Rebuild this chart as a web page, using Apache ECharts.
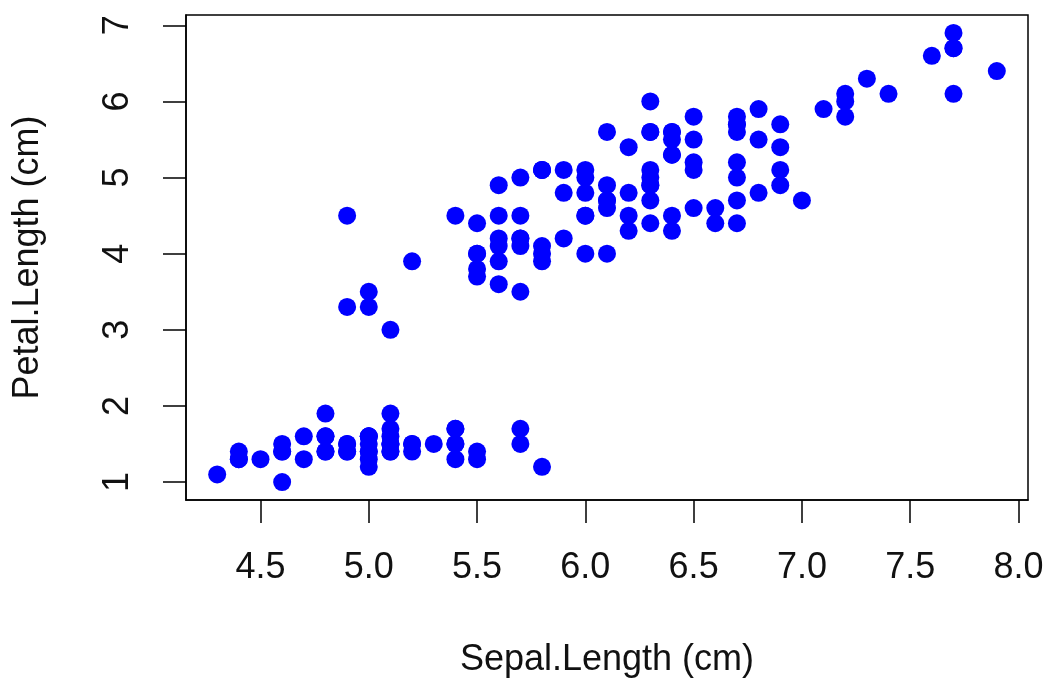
<!DOCTYPE html>
<html>
<head>
<meta charset="utf-8">
<script src="https://cdn.jsdelivr.net/npm/echarts@6/dist/echarts.min.js"></script>
<style>
  html, body { margin: 0; padding: 0; background: #fff; }
  #main { width: 1048px; height: 680px; }
</style>
</head>
<body>
<div id="main"></div>
<script>
// iris: Sepal.Length vs Petal.Length
const sepalLength = [
  5.1, 4.9, 4.7, 4.6, 5.0, 5.4, 4.6, 5.0, 4.4, 4.9, 5.4, 4.8, 4.8, 4.3, 5.8, 5.7, 5.4, 5.1, 5.7, 5.1,
  5.4, 5.1, 4.6, 5.1, 4.8, 5.0, 5.0, 5.2, 5.2, 4.7, 4.8, 5.4, 5.2, 5.5, 4.9, 5.0, 5.5, 4.9, 4.4, 5.1,
  5.0, 4.5, 4.4, 5.0, 5.1, 4.8, 5.1, 4.6, 5.3, 5.0,
  7.0, 6.4, 6.9, 5.5, 6.5, 5.7, 6.3, 4.9, 6.6, 5.2, 5.0, 5.9, 6.0, 6.1, 5.6, 6.7, 5.6, 5.8, 6.2, 5.6,
  5.9, 6.1, 6.3, 6.1, 6.4, 6.6, 6.8, 6.7, 6.0, 5.7, 5.5, 5.5, 5.8, 6.0, 5.4, 6.0, 6.7, 6.3, 5.6, 5.5,
  5.5, 6.1, 5.8, 5.0, 5.6, 5.7, 5.7, 6.2, 5.1, 5.7,
  6.3, 5.8, 7.1, 6.3, 6.5, 7.6, 4.9, 7.3, 6.7, 7.2, 6.5, 6.4, 6.8, 5.7, 5.8, 6.4, 6.5, 7.7, 7.7, 6.0,
  6.9, 5.6, 7.7, 6.3, 6.7, 7.2, 6.2, 6.1, 6.4, 7.2, 7.4, 7.9, 6.4, 6.3, 6.1, 7.7, 6.3, 6.4, 6.0, 6.9,
  6.7, 6.9, 5.8, 6.8, 6.7, 6.7, 6.3, 6.5, 6.2, 5.9
]
const petalLength = [
  1.4, 1.4, 1.3, 1.5, 1.4, 1.7, 1.4, 1.5, 1.4, 1.5, 1.5, 1.6, 1.4, 1.1, 1.2, 1.5, 1.3, 1.4, 1.7, 1.5,
  1.7, 1.5, 1.0, 1.7, 1.9, 1.6, 1.6, 1.5, 1.4, 1.6, 1.6, 1.5, 1.5, 1.4, 1.5, 1.2, 1.3, 1.4, 1.3, 1.5,
  1.3, 1.3, 1.3, 1.6, 1.9, 1.4, 1.6, 1.4, 1.5, 1.4,
  4.7, 4.5, 4.9, 4.0, 4.6, 4.5, 4.7, 3.3, 4.6, 3.9, 3.5, 4.2, 4.0, 4.7, 3.6, 4.4, 4.5, 4.1, 4.5, 3.9,
  4.8, 4.0, 4.9, 4.7, 4.3, 4.4, 4.8, 5.0, 4.5, 3.5, 3.8, 3.7, 3.9, 5.1, 4.5, 4.5, 4.7, 4.4, 4.1, 4.0,
  4.4, 4.6, 4.0, 3.3, 4.2, 4.2, 4.2, 4.3, 3.0, 4.1,
  6.0, 5.1, 5.9, 5.6, 5.8, 6.6, 4.5, 6.3, 5.8, 6.1, 5.1, 5.3, 5.5, 5.0, 5.1, 5.3, 5.5, 6.7, 6.9, 5.0,
  5.7, 4.9, 6.7, 4.9, 5.7, 6.0, 4.8, 4.9, 5.6, 5.8, 6.1, 6.4, 5.6, 5.1, 5.6, 6.1, 5.6, 5.5, 4.8, 5.4,
  5.6, 5.1, 5.1, 5.9, 5.7, 5.2, 5.0, 5.2, 5.4, 5.1
]
const xTicks = [4.5, 5.0, 5.5, 6.0, 6.5, 7.0, 7.5, 8.0]
const yTicks = [1, 2, 3, 4, 5, 6, 7]

const font = "'Liberation Sans', Arial, Helvetica, sans-serif"
const points = sepalLength.map((x, i) => [x, petalLength[i]])

// R style range: data range padded by 4% on each side
const pad = (arr) => {
  const lo = Math.min(...arr), hi = Math.max(...arr)
  const d = (hi - lo) * 0.04
  return [lo - d, hi + d]
}
const xRange = pad(sepalLength)
const yRange = pad(petalLength)

const axisStyle = { color: '#000', width: 1.5 }

let chart = echarts.init(document.getElementById('main'))
chart.setOption({
  animation: false,
  backgroundColor: '#fff',
  grid: {
    left: 186, right: 20, top: 15, bottom: 180,
    outerBoundsMode: 'none',
    show: true, borderColor: '#000', borderWidth: 1.5
  },
  xAxis: {
    type: 'value',
    min: xRange[0],
    max: xRange[1],
    name: 'Sepal.Length (cm)',
    nameLocation: 'middle',
    nameGap: 142,
    nameTextStyle: { fontFamily: font, fontSize: 36, color: '#111' },
    axisLine: { show: true, lineStyle: axisStyle },
    axisTick: { show: true, length: 23, lineStyle: axisStyle, customValues: xTicks },
    axisLabel: {
      customValues: xTicks,
      formatter: v => v.toFixed(1),
      fontFamily: font, fontSize: 36, color: '#111', margin: 50
    },
    splitLine: { show: false }
  },
  yAxis: {
    type: 'value',
    min: yRange[0],
    max: yRange[1],
    name: 'Petal.Length (cm)',
    nameLocation: 'middle',
    nameGap: 140,
    nameTextStyle: { fontFamily: font, fontSize: 36, color: '#111' },
    axisLine: { show: true, lineStyle: axisStyle },
    axisTick: { show: true, length: 23, lineStyle: axisStyle, customValues: yTicks },
    axisLabel: {
      customValues: yTicks,
      rotate: 90,
      fontFamily: font, fontSize: 36, color: '#111', margin: 50
    },
    splitLine: { show: false }
  },
  series: [
    {
      type: 'scatter',
      data: points,
      symbol: 'circle',
      symbolSize: 18,
      itemStyle: { color: '#0000ff', opacity: 1 }
    }
  ]
})
</script>
</body>
</html>
